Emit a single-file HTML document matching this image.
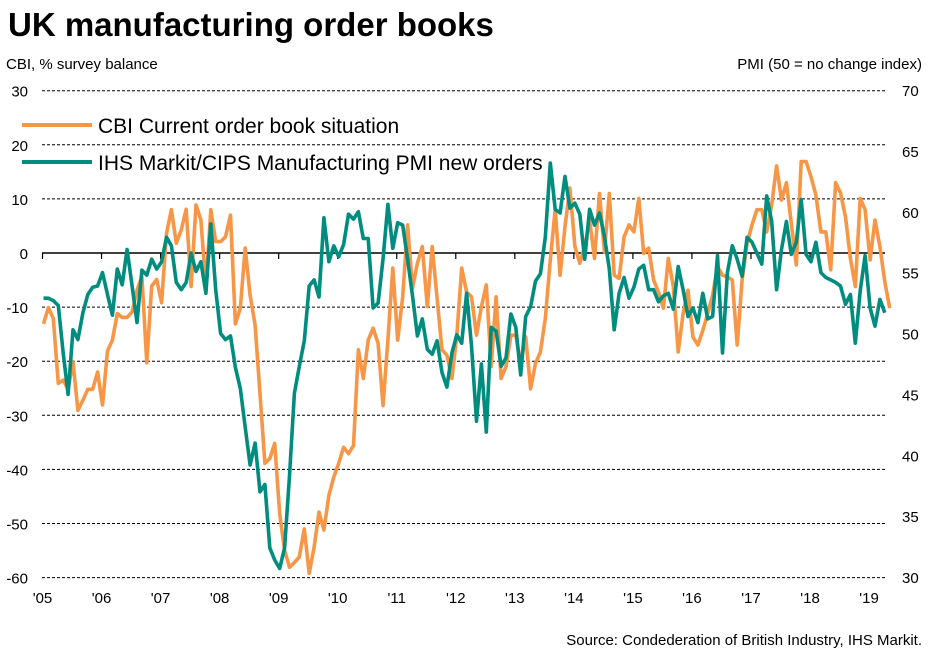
<!DOCTYPE html>
<html><head><meta charset="utf-8">
<style>
body{margin:0;background:#fff;font-family:"Liberation Sans",Arial,sans-serif;}
svg text{font-family:"Liberation Sans",Arial,sans-serif;}
</style></head>
<body>
<svg id="chart" width="930" height="658" viewBox="0 0 930 658">
<text x="8" y="36" font-size="33" font-weight="bold" fill="#000">UK manufacturing order books</text>
<text x="6" y="69" font-size="15" fill="#000">CBI, % survey balance</text>
<text x="922" y="69" font-size="15" fill="#000" text-anchor="end">PMI (50 = no change index)</text>
<g id="grid"></g><g id="axes"></g><g id="series"></g>
<g>
<line x1="22" y1="125" x2="92" y2="125" stroke="#F79646" stroke-width="4"/>
<text x="98" y="133" font-size="21">CBI Current order book situation</text>
<line x1="22" y1="162" x2="92" y2="162" stroke="#008C7E" stroke-width="4"/>
<text x="98" y="170" font-size="21">IHS Markit/CIPS Manufacturing PMI new orders</text>
</g>
<text x="922" y="645" font-size="15" text-anchor="end">Source: Condederation of British Industry, IHS Markit.</text>
</svg>
<script>
const leftTicks=[30,20,10,0,-10,-20,-30,-40,-50,-60];
const rightTicks=[70,65,60,55,50,45,40,35,30];
const yearLabels=["'05","'06","'07","'08","'09","'10","'11","'12","'13","'14","'15","'16","'17","'18","'19"];
const cbi=[-13.1,-10.1,-12.1,-24.1,-23.5,-25.2,-20.1,-29.1,-27.2,-25.2,-25.2,-22.0,-28.1,-18.1,-16.1,-11.2,-11.9,-11.9,-10.9,-6.9,-4.4,-20.3,-6.1,-4.9,-9.2,3.6,8.0,1.8,4.3,8.1,-6.2,8.9,6.1,-6.2,8.0,2.1,2.1,3.0,7.0,-13.1,-10.2,0.9,-7.8,-13.3,-26.0,-38.9,-38.0,-35.2,-48.2,-55.0,-58.1,-57.2,-56.2,-51.0,-59.2,-54.4,-47.9,-51.2,-44.8,-41.4,-38.9,-35.9,-37.1,
-35.6,-17.9,-23.2,-16.1,-13.9,-16.7,-28.2,-16.1,-2.8,-16.1,-8.1,5.2,-6.5,-1.9,1.2,-9.9,1.2,-8.4,-17.9,-18.9,-23.2,-15.2,-2.8,-7.2,-8.1,-15.2,-9.9,-5.9,-21.0,-8.1,-23.2,-21.0,-15.2,-15.2,-20.4,-15.5,-25.1,-20.4,-18.3,-12.1,-1.3,8.0,-4.1,4.9,12.0,1.2,-1.9,1.2,6.1,-1.0,11.0,0.2,11.0,-4.1,-4.7,3.0,5.2,
3.9,10.1,-0.1,0.9,-5.0,-7.2,-10.2,-1.0,-6.2,-18.3,-11.2,-6.9,-15.5,-17.0,-14.3,-11.2,-7.8,-2.5,-4.1,-4.4,-5.0,-17.0,-5.0,1.8,5.2,8.0,8.0,3.9,8.9,16.1,9.8,13.0,5.5,-2.2,16.9,16.9,14.1,10.7,3.9,3.9,-3.1,13.0,11.1,6.7,-1.0,-6.2,10.1,8.0,-1.3,6.1,1.2,-5.3,-10.2];
const pmi=[52.9,52.9,52.7,52.3,48.4,45.0,50.3,49.5,51.7,53.2,53.8,53.9,55.0,53.2,51.5,55.3,54.0,56.9,53.9,50.9,55.2,54.8,56.1,55.3,55.9,57.9,57.2,54.2,53.6,54.2,56.6,55.1,55.9,53.3,59.0,53.6,50.0,49.5,49.8,47.2,45.5,42.3,39.2,41.0,37.0,37.6,32.4,31.4,30.7,32.4,38.3,45.1,47.3,49.4,53.9,54.4,53.0,59.5,55.9,57.2,56.3,57.3,59.8,
59.4,60.0,57.8,57.8,52.1,52.5,56.1,60.6,57.0,59.1,58.9,56.1,53.1,49.8,51.2,48.7,48.3,49.4,46.8,45.6,48.4,49.9,49.2,53.3,49.0,42.8,47.5,41.9,50.5,50.2,47.3,48.0,51.6,50.5,46.6,51.4,52.2,54.3,54.9,57.9,64.0,60.2,59.9,62.9,60.3,60.7,59.8,56.1,60.2,58.9,59.9,58.0,55.3,50.3,53.3,54.6,52.9,
53.8,55.3,55.6,53.6,53.6,52.6,53.1,53.3,52.0,55.5,53.6,51.4,52.1,50.9,53.3,51.2,51.4,56.4,48.4,55.0,57.2,56.1,54.7,57.9,57.5,56.6,55.7,61.3,59.2,53.6,56.9,59.2,56.5,57.5,61.0,56.5,55.9,57.5,55.0,54.6,54.4,54.2,53.9,52.4,53.2,49.2,53.5,56.4,52.1,50.6,52.8,51.7];

const NS="http://www.w3.org/2000/svg";
const X0=43.5,MX=4.92,PL=42,PR=885;
function xAt(i){return X0+i*MX;}
function yL(v){return 253-v*5.41;}
function yR(v){return 577-(v-30)*12.175;}
function mk(tag,attrs,parent){const e=document.createElementNS(NS,tag);for(const k in attrs)e.setAttribute(k,attrs[k]);parent.appendChild(e);return e;}
const grid=document.getElementById('grid'),axes=document.getElementById('axes'),ser=document.getElementById('series');
leftTicks.forEach(v=>{
  const y=yL(v);
  const l=mk('line',{x1:PL,x2:PR,y1:y,y2:y,stroke:'#000','stroke-width':v===0?1.6:1,'stroke-dasharray':v===0?'none':'3,2'},grid);
  
  
  const t=mk('text',{x:28,y:y+6,'font-size':15,'text-anchor':'end'},axes);
  t.textContent=v;
  
  
});
rightTicks.forEach(v=>{
  const t=mk('text',{x:902,y:yR(v)+6,'font-size':15},axes);
  t.textContent=v;
  
  
});
yearLabels.forEach((s,k)=>{
  const x=xAt(k*12)-1;
  const tk=mk('line',{x1:x,x2:x,y1:253,y2:259,stroke:'#000','stroke-width':1.2},axes);
  
  
  const t=mk('text',{x:x,y:603,'font-size':15,'text-anchor':'middle'},axes);
  t.textContent=s;
  
  
});
function line(arr,fy,color,name){
  const d=arr.map((v,i)=>(i?'L':'M')+xAt(i).toFixed(1)+','+fy(v).toFixed(1)).join('');
  const p=mk('path',{d:d,fill:'none',stroke:color,'stroke-width':3.6,'stroke-linejoin':'round'},ser);
  
  
}
line(cbi,yL,'#F79646','cbi-line');
line(pmi,yR,'#008C7E','pmi-line');
</script>
</body></html>
